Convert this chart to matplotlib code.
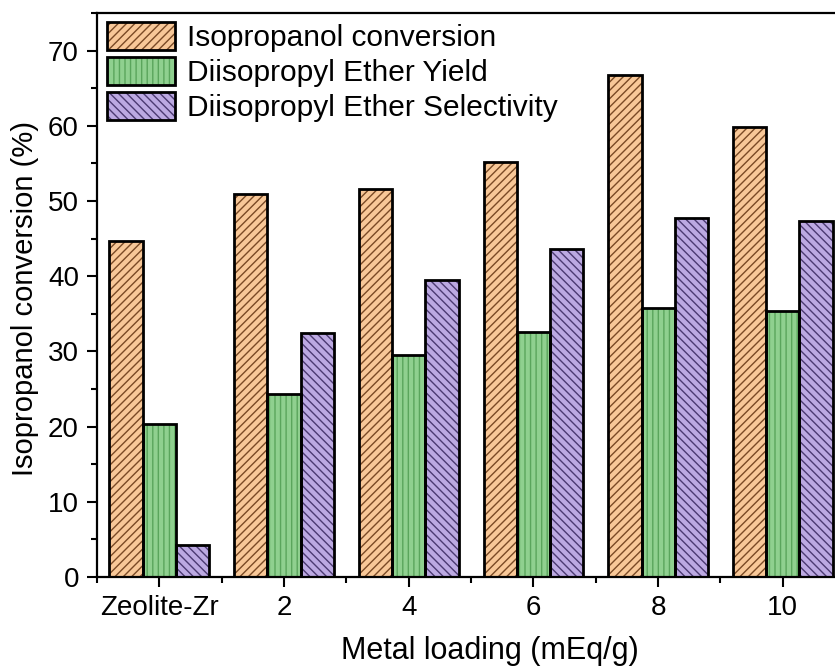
import matplotlib
matplotlib.use("Agg")
import matplotlib.pyplot as plt
import numpy as np
from matplotlib.patches import Patch
from matplotlib.legend_handler import HandlerTuple
from matplotlib.ticker import FixedLocator, MultipleLocator

categories = ["Zeolite-Zr", "2", "4", "6", "8", "10"]
conversion = [44.7, 50.9, 51.6, 55.2, 66.8, 59.8]
dipe_yield = [20.3, 24.3, 29.5, 32.6, 35.8, 35.4]
dipe_selectivity = [4.2, 32.5, 39.5, 43.6, 47.8, 47.3]
series_labels = ["Isopropanol conversion", "Diisopropyl Ether Yield",
                 "Diisopropyl Ether Selectivity"]
yticks = [0, 10, 20, 30, 40, 50, 60, 70]

plt.rcParams['font.family'] = ['Liberation Sans', 'DejaVu Sans']
plt.rcParams['hatch.linewidth'] = 1.0

fills = ["#F8C898", "#8FD08F", "#BCA9E2"]
hatch_cols = ["#7a4a25", "#5aa55c", "#4c3a72"]
hatches = ["////", "|||", "\\\\\\\\"]

fig = plt.figure(figsize=(8.35, 6.66), dpi=100)
ax = fig.add_axes([0.1162, 0.1336, 0.896, 0.8468])

x = np.arange(len(categories))
w = 0.8 / 3
handles = []
for i, vals in enumerate([conversion, dipe_yield, dipe_selectivity]):
    pos = x + (i - 1) * w
    ax.bar(pos, vals, w, color=fills[i], edgecolor=hatch_cols[i],
           hatch=hatches[i], linewidth=0, zorder=2)
    ax.bar(pos, vals, w, fill=False, edgecolor="black", linewidth=2.0, zorder=3)
    h1 = Patch(facecolor=fills[i], edgecolor=hatch_cols[i], hatch=hatches[i], linewidth=0)
    h2 = Patch(fill=False, edgecolor="black", linewidth=2.0)
    handles.append((h1, h2))

ax.set_xlim(-0.5, 5.5)
ax.set_ylim(0, 75)
ax.set_xticks(x)
ax.set_xticklabels(categories)
ax.xaxis.set_minor_locator(FixedLocator(np.arange(-0.5, 6.0, 1.0)))
ax.set_yticks(yticks)
ax.yaxis.set_minor_locator(MultipleLocator(5))

ax.tick_params(axis='both', which='major', direction='out', length=7, width=1.5,
               labelsize=20, top=False, right=False)
ax.tick_params(axis='both', which='minor', direction='out', length=4, width=1.5,
               top=False, right=False)
ax.tick_params(axis='x', which='major', pad=6)
ax.tick_params(axis='y', which='major', pad=6)
for sp in ax.spines.values():
    sp.set_linewidth(1.6)

ax.set_xlabel("Metal loading (mEq/g)", fontsize=22)
ax.xaxis.set_label_coords(0.525, -0.104)
ax.set_ylabel("Isopropanol conversion (%)", fontsize=21)
ax.yaxis.set_label_coords(-0.077, 0.493)

leg = ax.legend(handles, series_labels, handler_map={tuple: HandlerTuple(ndivide=1, pad=0)},
                loc="upper left", bbox_to_anchor=(0.0134, 0.984), frameon=False,
                borderpad=0, borderaxespad=0, fontsize=21.5, handlelength=2.27,
                handleheight=1.04, labelspacing=0.17, handletextpad=0.4)

fig.savefig("out.png", dpi=100)
